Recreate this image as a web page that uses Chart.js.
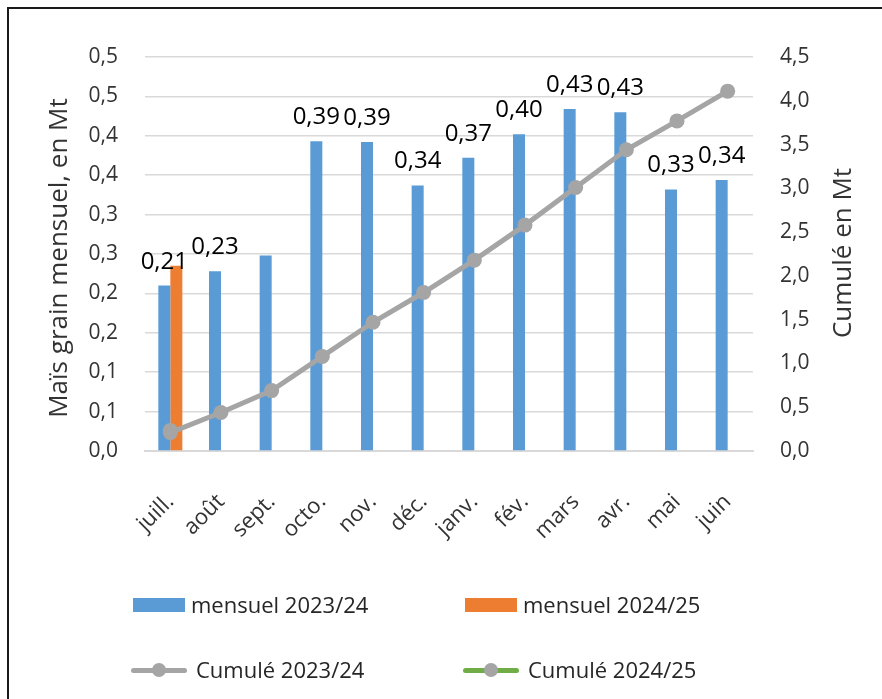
<!DOCTYPE html>
<html lang="fr">
<head>
  <meta charset="UTF-8">
  <title>Maïs grain mensuel</title>
  <style>
    body { margin: 0; background: #fff; font-family: 'Open Sans', sans-serif; }
    #wrap { position: relative; width: 882px; height: 699px; overflow: hidden; }
    #frame { position: absolute; left: 7px; top: 7px; width: 920px; height: 740px; border: 2px solid #1a1a1a; }
    #chart { position: absolute; left: 0; top: 0; }
    .leg { position: absolute; font-size: 22px; color: #262626; line-height: 1; white-space: nowrap; }
    .box { position: absolute; width: 52px; height: 14px; }
    .ln { position: absolute; width: 56px; height: 5px; border-radius: 3px; }
    .dot { position: absolute; width: 14px; height: 14px; border-radius: 50%; background: #A5A5A5; }
  </style>
</head>
<body>
  <div id="wrap">
    <div id="frame"></div>
    <canvas id="chart" width="882" height="699"></canvas>
    <div id="legend"></div>
  </div>

  <script src="https://cdn.jsdelivr.net/npm/chart.js"></script>
  <script>
    // data
    const months = ['juill.', 'août', 'sept.', 'octo.', 'nov.', 'déc.', 'janv.', 'fév.', 'mars', 'avr.', 'mai', 'juin'];
    const monthly2324 = [0.21, 0.228, 0.248, 0.393, 0.392, 0.337, 0.372, 0.402, 0.434, 0.43, 0.332, 0.344];
    const monthly2425 = [0.235, null, null, null, null, null, null, null, null, null, null, null];
    const cumul2324 = [0.21, 0.44, 0.69, 1.08, 1.47, 1.81, 2.18, 2.58, 3.01, 3.44, 3.77, 4.11];
    const cumul2425 = [0.235, null, null, null, null, null, null, null, null, null, null, null];
    const barLabels = ['0,21', '0,23', '', '0,39', '0,39', '0,34', '0,37', '0,40', '0,43', '0,43', '0,33', '0,34'];
    const leftTickLabels = ['0,0', '0,1', '0,1', '0,2', '0,2', '0,3', '0,3', '0,4', '0,4', '0,5', '0,5'];
    const rightTickLabels = ['0,0', '0,5', '1,0', '1,5', '2,0', '2,5', '3,0', '3,5', '4,0', '4,5'];
    const leftTitle = 'Maïs grain mensuel, en Mt';
    const rightTitle = 'Cumulé en Mt';
    const seriesNames = ['mensuel 2023/24', 'mensuel 2024/25', 'Cumulé 2023/24', 'Cumulé 2024/25'];

    const BLUE = '#5B9BD5', ORANGE = '#ED7D31', GREY = '#A5A5A5', GREEN = '#70AD47';
    const TXT = '#333333';
    const FONT = "'Open Sans', sans-serif";

    // value labels above the 2023/24 bars + rotated axis titles
    const extras = {
      id: 'extras',
      afterDatasetsDraw(chart) {
        const ctx = chart.ctx;
        const meta = chart.getDatasetMeta(0);
        ctx.save();
        ctx.font = '24px ' + FONT;
        ctx.fillStyle = '#000';
        ctx.textAlign = 'center';
        ctx.textBaseline = 'alphabetic';
        meta.data.forEach((bar, i) => {
          if (barLabels[i]) ctx.fillText(barLabels[i], bar.x, bar.y - 17);
        });
        ctx.restore();
      },
      afterDraw(chart) {
        const ctx = chart.ctx;
        ctx.save();
        ctx.font = '26px ' + FONT;
        ctx.fillStyle = TXT;
        ctx.textAlign = 'center';
        ctx.textBaseline = 'middle';
        ctx.translate(60, 258);
        ctx.rotate(-Math.PI / 2);
        ctx.fillText(leftTitle, 0, 0);
        ctx.restore();
        ctx.save();
        ctx.font = '26px ' + FONT;
        ctx.fillStyle = TXT;
        ctx.textAlign = 'center';
        ctx.textBaseline = 'middle';
        ctx.translate(844, 253);
        ctx.rotate(-Math.PI / 2);
        ctx.fillText(rightTitle, 0, 0);
        ctx.restore();
      }
    };

    new Chart(document.getElementById('chart'), {
      data: {
        labels: months,
        datasets: [
          { type: 'bar', label: seriesNames[0], data: monthly2324, backgroundColor: BLUE, yAxisID: 'y', order: 3,
            categoryPercentage: 0.474, barPercentage: 1 },
          { type: 'bar', label: seriesNames[1], data: monthly2425, backgroundColor: ORANGE, yAxisID: 'y', order: 3,
            categoryPercentage: 0.474, barPercentage: 1 },
          { type: 'line', label: seriesNames[2], data: cumul2324, yAxisID: 'y2', order: 1,
            borderColor: GREY, borderWidth: 5, pointRadius: 7.5, pointBackgroundColor: GREY, pointBorderWidth: 0 },
          { type: 'line', label: seriesNames[3], data: cumul2425, yAxisID: 'y2', order: 2,
            borderColor: GREEN, borderWidth: 5, pointRadius: 7.5, pointBackgroundColor: GREY, pointBorderWidth: 0 }
        ]
      },
      options: {
        responsive: false,
        animation: false,
        layout: { padding: { top: 57, left: 0, right: 0, bottom: 0 } },
        plugins: { legend: { display: false }, tooltip: { enabled: false } },
        scales: {
          x: {
            afterFit: s => { s.height = 248; },
            grid: { display: false, drawTicks: false },
            border: { display: true, color: '#D9D9D9', width: 2 },
            ticks: { color: TXT, font: { family: FONT, size: 22 }, minRotation: 45, maxRotation: 45, padding: 38, autoSkip: false }
          },
          y: {
            position: 'left',
            min: 0, max: 0.5,
            afterFit: s => { s.width = 145; },
            grid: { color: '#D9D9D9', lineWidth: 1.5, drawTicks: false },
            border: { display: false },
            ticks: { stepSize: 0.05, padding: 27, color: TXT, font: { family: FONT, size: 21 },
              callback: (v, i) => leftTickLabels[i] }
          },
          y2: {
            position: 'right',
            min: 0, max: 4.5,
            afterFit: s => { s.width = 129; },
            grid: { display: false, drawTicks: false },
            border: { display: false },
            ticks: { stepSize: 0.5, padding: 27, color: TXT, font: { family: FONT, size: 21 },
              callback: (v, i) => rightTickLabels[i] }
          }
        }
      },
      plugins: [extras]
    });

    // legend below the plot, two rows of two
    const legend = document.getElementById('legend');
    const legendItems = [
      { name: seriesNames[0], kind: 'box', color: BLUE, x: 133, y: 605 },
      { name: seriesNames[1], kind: 'box', color: ORANGE, x: 465, y: 605 },
      { name: seriesNames[2], kind: 'line', color: GREY, x: 131, y: 670 },
      { name: seriesNames[3], kind: 'line', color: GREEN, x: 463, y: 670 }
    ];
    legendItems.forEach(it => {
      if (it.kind === 'box') {
        const b = document.createElement('div');
        b.className = 'box';
        b.style.left = it.x + 'px';
        b.style.top = (it.y - 7) + 'px';
        b.style.background = it.color;
        legend.appendChild(b);
      } else {
        const l = document.createElement('div');
        l.className = 'ln';
        l.style.left = it.x + 'px';
        l.style.top = (it.y - 2.5) + 'px';
        l.style.background = it.color;
        legend.appendChild(l);
        const d = document.createElement('div');
        d.className = 'dot';
        d.style.left = (it.x + 21) + 'px';
        d.style.top = (it.y - 7) + 'px';
        legend.appendChild(d);
      }
      const t = document.createElement('div');
      t.className = 'leg';
      t.textContent = it.name;
      t.style.left = (it.x + (it.kind === 'box' ? 58 : 65)) + 'px';
      t.style.top = (it.y - 12) + 'px';
      legend.appendChild(t);
    });
  </script>
</body>
</html>
